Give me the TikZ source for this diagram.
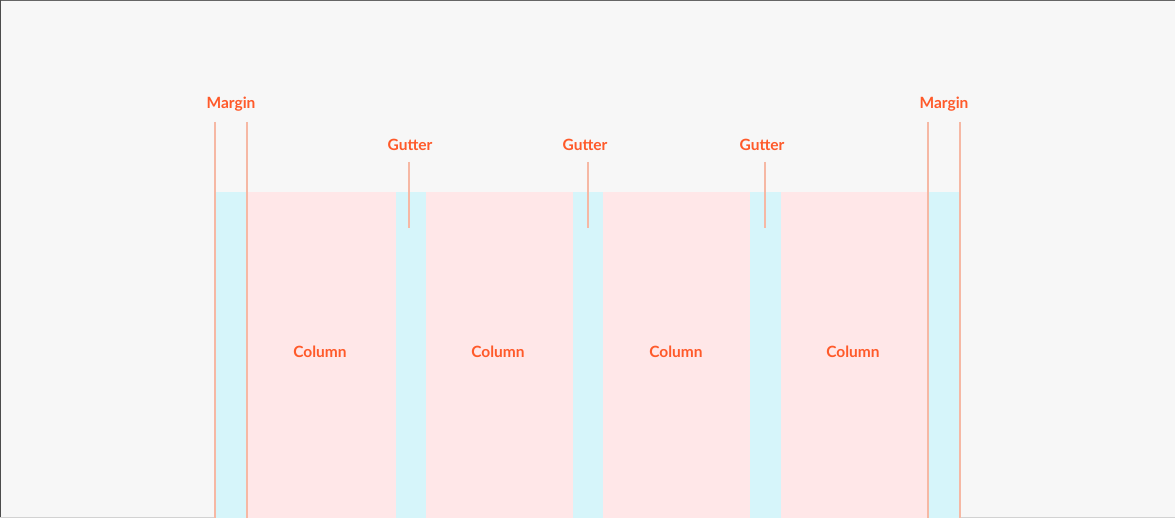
\documentclass[tikz,border=0pt]{standalone}
\usepackage{fontspec}
\setmainfont{Lato}
\definecolor{bg}{HTML}{F7F7F7}
\definecolor{cyanfill}{HTML}{D6F5FA}
\definecolor{pinkfill}{HTML}{FFE7E8}
\definecolor{guide}{HTML}{F6B8A4}
\definecolor{labeltxt}{HTML}{FF5A2A}
\begin{document}
\begin{tikzpicture}[x=1pt,y=-1pt,
  marginband/.style={fill=cyanfill,draw=none},
  colband/.style={fill=pinkfill,draw=none},
  guideline/.style={draw=guide,line width=1.8pt},
  lbl/.style={text=labeltxt,font=\bfseries\fontsize{15.5}{18}\selectfont,inner sep=0pt}]
\fill[bg] (0,0) rectangle (1175,518);
\useasboundingbox (0,0) rectangle (1175,518);
\draw[gray!80!black,line width=1pt] (0,0.5) -- (1175,0.5);
\draw[gray!60!black,line width=1pt] (0.5,0) -- (0.5,518);
\draw[gray!35,line width=1pt] (0,517.5) -- (1175,517.5);
% bands
\fill[marginband] (215,192) rectangle (247,518);
\fill[colband] (247,192) rectangle (396,518);
\fill[marginband] (396,192) rectangle (426,518);
\fill[colband] (426,192) rectangle (573,518);
\fill[marginband] (573,192) rectangle (603,518);
\fill[colband] (603,192) rectangle (750,518);
\fill[marginband] (750,192) rectangle (781,518);
\fill[colband] (781,192) rectangle (928,518);
\fill[marginband] (928,192) rectangle (960,518);
% labels
\node[lbl] (m1) at (231,104) {Margin};
\node[lbl] (m2) at (944,104) {Margin};
\node[lbl] (g1) at (410,145) {Gutter};
\node[lbl] (g2) at (585,145) {Gutter};
\node[lbl] (g3) at (762,145) {Gutter};
\node[lbl] (c1) at (320,352) {Column};
\node[lbl] (c2) at (498,352) {Column};
\node[lbl] (c3) at (676,352) {Column};
\node[lbl] (c4) at (853,352) {Column};
% guide lines
\coordinate (m1a) at (215,122); \coordinate (m1b) at (215,518);
\coordinate (m1c) at (247,122); \coordinate (m1d) at (247,518);
\coordinate (m2a) at (928,122); \coordinate (m2b) at (928,518);
\coordinate (m2c) at (960,122); \coordinate (m2d) at (960,518);
\draw[guideline] (m1a) -- (m1b);
\draw[guideline] (m1c) -- (m1d);
\draw[guideline] (m2a) -- (m2b);
\draw[guideline] (m2c) -- (m2d);
\coordinate (g1a) at (409,162); \coordinate (g1b) at (409,228);
\coordinate (g2a) at (588,162); \coordinate (g2b) at (588,228);
\coordinate (g3a) at (765,162); \coordinate (g3b) at (765,228);
\draw[guideline] (g1a) -- (g1b);
\draw[guideline] (g2a) -- (g2b);
\draw[guideline] (g3a) -- (g3b);
\end{tikzpicture}
\end{document}
